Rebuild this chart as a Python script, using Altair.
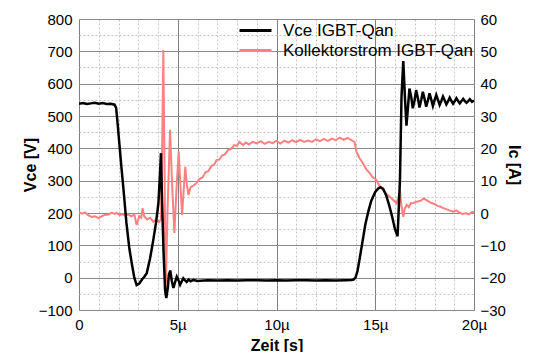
import altair as alt
import pandas as pd

# ---- data (time in µs) ----
vce_t = [0.0, 0.2, 0.4, 0.6, 0.8, 1.0, 1.2, 1.4, 1.6, 1.8, 1.88, 1.95, 2.05, 2.15, 2.25, 2.4, 2.55, 2.67, 2.8, 2.92,
         3.05, 3.2, 3.3, 3.43, 3.6, 3.76, 3.9, 4.02, 4.1, 4.15, 4.2, 4.28, 4.36, 4.42, 4.5, 4.55, 4.62, 4.7, 4.78,
         4.86, 4.95, 5.05, 5.12, 5.2, 5.28, 5.36, 5.45, 5.55, 5.65, 5.8, 6.0, 6.5, 7.0, 7.5, 8.0, 8.5, 9.0, 9.5,
         10.0, 10.5, 11.0, 11.5, 12.0, 12.5, 13.0, 13.5, 13.8, 13.9, 14.0, 14.1, 14.2, 14.35, 14.5, 14.65, 14.8,
         15.0, 15.15, 15.27, 15.4, 15.55, 15.7, 15.85, 16.0, 16.13, 16.25, 16.33, 16.42, 16.5, 16.58, 16.66, 16.73,
         16.82, 16.9, 16.99, 17.07, 17.16, 17.24, 17.33, 17.41, 17.5, 17.58, 17.67, 17.75, 17.84, 17.92, 18.0,
         18.09, 18.18, 18.26, 18.35, 18.43, 18.52, 18.6, 18.69, 18.77, 18.86, 18.94, 19.03, 19.11, 19.2, 19.28,
         19.37, 19.45, 19.54, 19.62, 19.71, 19.79, 19.9, 20.0]
vce_v = [538, 540, 537, 539, 541, 538, 540, 537, 538, 535, 525, 480, 410, 340, 275, 170, 90, 45, 0, -23,
         -18, -5, 2, 14, 60, 116, 170, 230, 320, 385, 250, 80, -40, -63, -30, 10, 22, -10, -32,
         -15, 3, -10, -22, -12, -2, -8, -13, -6, -11, -7, -10, -8, -9, -8, -9, -8, -8, -9,
         -8, -9, -8, -8, -9, -8, -9, -8, -7, -6, 0, 20, 55, 110, 165, 205, 238,
         265, 276, 280, 275, 255, 225, 190, 150, 128, 300, 560, 670, 560, 470, 530, 585,
         560, 524, 548, 580, 555, 526, 550, 575, 552, 529, 549, 570, 550, 531, 548,
         565, 549, 534, 547, 560, 548, 536, 546, 557, 546, 538, 546, 555, 546, 539,
         546, 553, 546, 541, 546, 552, 544, 548]

ic_t = [0.0, 0.15, 0.3, 0.5, 0.65, 0.8, 1.0, 1.15, 1.3, 1.5, 1.65, 1.8, 1.9, 2.05, 2.2, 2.35, 2.5, 2.65, 2.8,
        2.92, 3.05, 3.15, 3.22, 3.3, 3.45, 3.6, 3.76, 3.9, 4.05, 4.15, 4.2, 4.27, 4.33, 4.39, 4.48, 4.61, 4.72,
        4.83, 4.94, 5.05, 5.14, 5.22, 5.3, 5.38, 5.46, 5.54, 5.65, 5.8, 5.96, 6.1, 6.25, 6.4, 6.55, 6.7, 6.85,
        6.97, 7.1, 7.25, 7.4, 7.55, 7.7, 7.85, 8.0, 8.12, 8.3, 8.45, 8.6, 8.8, 9.0, 9.2, 9.4, 9.6, 9.8, 10.0,
        10.2, 10.4, 10.6, 10.8, 11.0, 11.2, 11.4, 11.6, 11.8, 12.0, 12.2, 12.4, 12.6, 12.8, 13.0, 13.2, 13.4,
        13.6, 13.8, 13.95, 14.05, 14.2, 14.38, 14.55, 14.7, 14.85, 15.06, 15.24, 15.4, 15.55, 15.7, 15.91,
        16.08, 16.18, 16.25, 16.33, 16.42, 16.5, 16.6, 16.7, 16.8, 16.9, 17.1, 17.3, 17.45, 17.6, 17.8, 18.0,
        18.15, 18.28, 18.45, 18.6, 18.75, 18.95, 19.1, 19.25, 19.4, 19.6, 19.75, 19.9, 20.0]
ic_a = [0.3, -0.2, 0.2, -0.8, -1.2, -1.0, -1.6, -1.0, -0.6, -0.5, 0.1, -0.3, 0.0, -0.6, -0.4, -0.8, -0.5, -1.0, -0.4,
        -3.7, -1.0, -1.5, 1.5, -1.0, -2.0, -1.5, -2.7, -2.0, -2.8, -2.0, 15, 50.4, 15, -25, 0, 25.7, 8,
        -6.2, 8, 19, 8, -0.6, 7, 14.3, 9, 5.6, 8, 8.5, 9.3, 10.5, 11, 12.5, 13, 14.5, 15,
        16.4, 16.5, 17.8, 18.2, 19.5, 19.8, 21, 20.8, 22, 21, 21.8, 21.2, 22, 21.5, 22.2, 21.4, 22, 21.6, 22.3,
        21.5, 22.4, 21.8, 22.5, 21.9, 22.6, 22, 22.4, 22, 22.8, 22.2, 22.9, 22.3, 23, 22.5, 23.3, 22.6,
        23.2, 22.5, 22, 19, 17, 15.4, 13.5, 12.5, 11.2, 10.2, 8.1, 7, 6, 5.2, 4,
        3, 5, 7.1, 2, -1.2, 1.5, 2.5, 1.8, 3, 3, 3.5, 3.8, 4.5, 4, 3.2, 2.8,
        2.2, 2, 1.5, 1.2, 0.8, 0.4, 0.8, 0.2, -0.3, -0.1, -0.4, 0.3, 0.2]

series = ["Vce IGBT-Qan", "Kollektorstrom IGBT-Qan"]
colors = ["#000000", "#ff8080"]
x_ticks = list(range(0, 21))
y_left_ticks = list(range(-100, 801, 50))
y_right_ticks = list(range(-30, 61, 10))

df_v = pd.DataFrame({"t": vce_t, "v": vce_v, "s": series[0]})
df_i = pd.DataFrame({"t": ic_t, "i": ic_a, "s": series[1]})

FONT = "Liberation Sans"

color = alt.Color("s:N", title=None,
                  scale=alt.Scale(domain=series, range=colors),
                  legend=alt.Legend(orient="none", legendX=165, legendY=0, symbolType="M-1.6,0H1.6",
                                    symbolSize=400, symbolStrokeWidth=3, labelFontSize=17,
                                    labelFont=FONT, labelColor="black", labelOffset=16,
                                    rowPadding=0, padding=0, labelLimit=400))

x_enc = alt.X("t:Q", title="Zeit [s]",
              scale=alt.Scale(domain=[0, 20], nice=False),
              axis=alt.Axis(values=x_ticks,
                            labelExpr="datum.value === 0 ? '0' : (datum.value % 5 === 0 ? datum.value + 'µ' : '')",
                            grid=True,
                            gridColor={"condition": {"test": "datum.value % 5 === 0", "value": "#808080"}, "value": "#c4c4c4"},
                            gridDash={"condition": {"test": "datum.value % 5 === 0", "value": []}, "value": [2, 2]},
                            ticks=False, domain=False, labelPadding=7, titlePadding=5, labelFlush=False,
                            labelFontSize=15, labelFont=FONT, labelColor="black", labelOverlap=False,
                            titleFont=FONT, titleFontSize=16, titleFontWeight="bold", titleColor="black"))

ic_line = alt.Chart(df_i).mark_line(strokeWidth=2, clip=True).encode(
    x=x_enc,
    y=alt.Y("i:Q", title="Ic [A]", scale=alt.Scale(domain=[-30, 60], nice=False),
            axis=alt.Axis(orient="right", values=y_right_ticks, grid=False, ticks=False, domain=False,
                          labelPadding=6, titlePadding=0, labelFlush=False, labelFontSize=15, labelFont=FONT,
                          labelColor="black", titleFont=FONT, titleFontSize=16,
                          titleFontWeight="bold", titleColor="black")),
    color=color,
)

v_line = alt.Chart(df_v).mark_line(strokeWidth=2.5, clip=True).encode(
    x=x_enc,
    y=alt.Y("v:Q", title="Vce [V]", scale=alt.Scale(domain=[-100, 800], nice=False),
            axis=alt.Axis(orient="left", values=y_left_ticks,
                          labelExpr="datum.value % 100 === 0 ? datum.label : ''",
                          grid=True,
                          gridColor={"condition": {"test": "datum.value % 100 === 0", "value": "#8a8a8a"}, "value": "#c4c4c4"},
                          gridDash={"condition": {"test": "datum.value % 100 === 0", "value": []}, "value": [2, 2]},
                          ticks=False, domain=False, labelPadding=7, titlePadding=0, labelFlush=False,
                          labelFontSize=15, labelFont=FONT, labelColor="black", labelOverlap=False,
                          titleFont=FONT, titleFontSize=16, titleFontWeight="bold", titleColor="black")),
    color=color,
)

chart = alt.layer(ic_line, v_line).resolve_scale(y="independent").properties(
    width=395, height=291,
    autosize=alt.AutoSizeParams(type="none"),
    padding={"left": 71, "top": 11, "right": 51, "bottom": 42},
).configure_view(stroke="#444444", strokeWidth=1).configure(background="white")

chart.save("out.html", embed_options={"renderer": "svg", "actions": False})
